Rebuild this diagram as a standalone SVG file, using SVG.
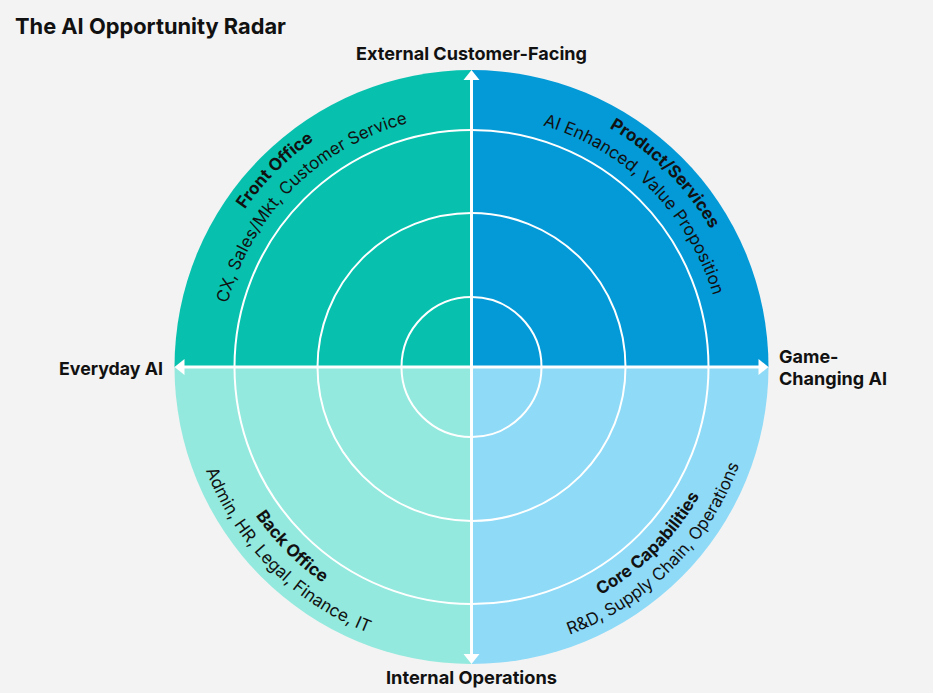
<svg xmlns="http://www.w3.org/2000/svg" width="933" height="693" viewBox="0 0 933 693">
<defs>
<style>
.t{font-family:Inter,"Liberation Sans",sans-serif;fill:#111}
.b{font-weight:700}
.ring{fill:none;stroke:#fff;stroke-width:2}
.ax{stroke:#fff;stroke-width:3}
.ah{fill:#fff}
.qt{font-size:17px;font-weight:700}
.qs{font-size:17px;font-weight:400}
.al{font-size:18px;font-weight:700}
</style>
<path id="pTopT" d="M195.5,367 A276,276 0 0 1 747.5,367"/>
<path id="pTopS" d="M219.5,367 A252,252 0 0 1 723.5,367"/>
<path id="pBotT" d="M209.5,367 A262,262 0 0 0 733.5,367"/>
<path id="pBotS" d="M186.5,367 A285,285 0 0 0 756.5,367"/>
</defs>
<rect width="933" height="693" fill="#f3f3f3"/>
<text class="t b" x="15" y="34" font-size="22" textLength="271" lengthAdjust="spacingAndGlyphs">The AI Opportunity Radar</text>

<g id="front-office">
<path d="M471.5,367 L174.5,367 A297,297 0 0 1 471.5,70 Z" fill="#07c1ae"/>
<text class="t qt"><textPath href="#pTopT" startOffset="25%" text-anchor="middle">Front Office</textPath></text>
<text class="t qs"><textPath href="#pTopS" startOffset="25%" text-anchor="middle">CX, Sales/Mkt, Customer Service</textPath></text>
</g>
<g id="product-services">
<path d="M471.5,367 L471.5,70 A297,297 0 0 1 768.5,367 Z" fill="#0499d7"/>
<text class="t qt"><textPath href="#pTopT" startOffset="75%" text-anchor="middle">Product/Services</textPath></text>
<text class="t qs"><textPath href="#pTopS" startOffset="75%" text-anchor="middle">AI Enhanced, Value Proposition</textPath></text>
</g>
<g id="core-capabilities">
<path d="M471.5,367 L768.5,367 A297,297 0 0 1 471.5,664 Z" fill="#8fdaf7"/>
<text class="t qt"><textPath href="#pBotT" startOffset="75%" text-anchor="middle">Core Capabilities</textPath></text>
<text class="t qs"><textPath href="#pBotS" startOffset="75%" text-anchor="middle">R&amp;D, Supply Chain, Operations</textPath></text>
</g>
<g id="back-office">
<path d="M471.5,367 L471.5,664 A297,297 0 0 1 174.5,367 Z" fill="#93e9dd"/>
<text class="t qt"><textPath href="#pBotT" startOffset="25%" text-anchor="middle">Back Office</textPath></text>
<text class="t qs"><textPath href="#pBotS" startOffset="25%" text-anchor="middle">Admin, HR, Legal, Finance, IT</textPath></text>
</g>

<g id="rings">
<circle class="ring" cx="471.5" cy="367" r="237"/>
<circle class="ring" cx="471.5" cy="367" r="154"/>
<circle class="ring" cx="471.5" cy="367" r="70"/>
</g>

<g id="connectors">
<line class="ax" x1="471.5" y1="79" x2="471.5" y2="655"/>
<line class="ax" x1="183.5" y1="367" x2="759.5" y2="367"/>
<polygon class="ah" points="471.5,70 463.5,80 479.5,80"/>
<polygon class="ah" points="471.5,664 463.5,654 479.5,654"/>
<polygon class="ah" points="174.5,367 184.5,359 184.5,375"/>
<polygon class="ah" points="768.5,367 758.5,359 758.5,375"/>
</g>

<g id="axis-labels">
<text class="t al" x="356" y="60" textLength="231" lengthAdjust="spacingAndGlyphs">External Customer-Facing</text>
<text class="t al" x="386" y="684" textLength="171" lengthAdjust="spacingAndGlyphs">Internal Operations</text>
<text class="t al" x="59" y="375" textLength="104" lengthAdjust="spacingAndGlyphs">Everyday AI</text>
<text class="t al" x="779" y="363">Game-</text>
<text class="t al" x="779" y="385" textLength="108" lengthAdjust="spacingAndGlyphs">Changing AI</text>
</g>
</svg>
